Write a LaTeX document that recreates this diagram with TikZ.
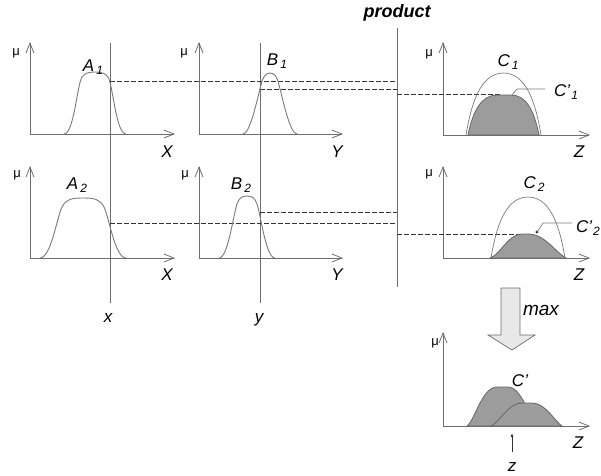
\documentclass[tikz,border=0pt]{standalone}
\usepackage{fontspec}
\setmainfont{Liberation Sans}
\usepackage{xcolor}
\usetikzlibrary{arrows.meta}

\definecolor{axisgray}{HTML}{6E6E6E}
\definecolor{curvegray}{HTML}{7A7A7A}
\definecolor{fillgray}{HTML}{9C9C9C}
\definecolor{edgegray}{HTML}{666666}
\definecolor{guidegray}{HTML}{333333}

\newcommand\lowix[1]{\kern2pt\raisebox{-3pt}{\fontsize{12}{12}\selectfont #1}}

\tikzset{
  axis/.style={draw=axisgray, line width=0.8pt, -{Straight Barb[length=10pt,width=8pt]}},
  curve/.style={draw=curvegray, line width=0.9pt},
  mship/.style={fill=fillgray, draw=edgegray, line width=0.8pt},
  vline/.style={draw=axisgray, line width=0.8pt},
  guide/.style={draw=guidegray, line width=0.6pt, dash pattern=on 4.5pt off 2.5pt},
  lbl/.style={font=\fontsize{17}{17}\selectfont\itshape, inner sep=0pt},
  setlbl/.style={font=\fontsize{17}{17}\selectfont\itshape, inner sep=0pt},
  mulbl/.style={font=\fontsize{13}{13}\selectfont, inner sep=0pt}
}

\begin{document}
\begin{tikzpicture}[x=1pt, y=-1pt]
  \useasboundingbox (0,0) rectangle (601,475);
  \coordinate (xtop) at (110,43);
  \coordinate (xbot) at (110,303);
  \coordinate (ytop) at (260,43);
  \coordinate (ybot) at (260,303);
  \coordinate (ptop) at (397,28);
  \coordinate (pbot) at (397,287);
  \draw[vline] (xtop) -- (xbot);
  \draw[vline] (ytop) -- (ybot);
  \draw[vline] (ptop) -- (pbot);
  \node[lbl] (xval) at (108,318) {x};
  \node[lbl] (yval) at (259,320) {y};
  \node[font=\fontsize{18}{18}\selectfont\bfseries\itshape, inner sep=0pt] (prod) at (397,13) {product};
  % axes
  \draw[axis] (30,134) -- (30,42);
  \draw[axis] (30,134) -- (175,134);
  \draw[axis] (199,134) -- (199,42);
  \draw[axis] (199,134) -- (343,134);
  \draw[axis] (30,258) -- (30,166);
  \draw[axis] (30,258) -- (175,258);
  \draw[axis] (199,258) -- (199,166);
  \draw[axis] (199,258) -- (343,258);
  \draw[axis] (443,135) -- (443,42);
  \draw[axis] (443,135) -- (590,135);
  \draw[axis] (443,258) -- (443,166);
  \draw[axis] (443,258) -- (590,258);
  \draw[axis] (443,426) -- (443,332);
  \draw[axis] (443,426) -- (590,426);
  \node[mulbl] (mua1) at (16,53) {μ};
  \node[mulbl] (mub1) at (184,53) {μ};
  \node[mulbl] (mua2) at (17,175) {μ};
  \node[mulbl] (mub2) at (185,175) {μ};
  \node[mulbl] (muc1) at (429,54) {μ};
  \node[mulbl] (muc2) at (429,174) {μ};
  \node[mulbl] (muout) at (435,343) {μ};
  \node[lbl] (xa1) at (167,152) {X};
  \node[lbl] (ya1) at (337,152) {Y};
  \node[lbl] (za1) at (579,152) {Z};
  \node[lbl] (xa2) at (167,275) {X};
  \node[lbl] (ya2) at (337,275) {Y};
  \node[lbl] (za2) at (579,275) {Z};
  \node[lbl] (zout) at (578,443) {Z};
  % cut levels
  \coordinate (a1cut) at (110,81);
  \coordinate (b1cut) at (260,89);
  \coordinate (a1end) at (397,81);
  \coordinate (b1end) at (397,89);
  \coordinate (r1beg) at (397,94);
  \coordinate (r1end) at (500,94);
  \coordinate (a2cut) at (110,223);
  \coordinate (b2cut) at (260,212);
  \coordinate (a2end) at (397,223);
  \coordinate (b2end) at (397,212);
  \coordinate (r2beg) at (397,234);
  \coordinate (r2end) at (524,234);
  \draw[guide] (a1cut) -- (a1end);
  \draw[guide] (b1cut) -- (b1end);
  \draw[guide] (r1beg) -- (r1end);
  \draw[guide] (a2cut) -- (a2end);
  \draw[guide] (b2cut) -- (b2end);
  \draw[guide] (r2beg) -- (r2end);
  % antecedents
  \draw[curve] (64,134) .. controls (74,134) and (77,85) .. (82,77) .. controls (85,73) and (89,72) .. (95,72) .. controls (101,72) and (105,73) .. (108,77) .. controls (113,85) and (116,134) .. (126,134);
  \draw[curve] (243,134) .. controls (250,134) and (257,100) .. (261,85) .. controls (263,76) and (266,73) .. (270,73) .. controls (274,73) and (277,76) .. (279,85) .. controls (283,100) and (290,134) .. (297,134);
  \draw[curve] (40,258) .. controls (51,258) and (57,217) .. (62,207) .. controls (66,199) and (72,198) .. (83,198) .. controls (94,198) and (100,199) .. (104,207) .. controls (109,217) and (115,258) .. (126,258);
  \draw[curve] (219,258) .. controls (228,258) and (233,216) .. (237,204) .. controls (239,198) and (242,196) .. (247,196) .. controls (252,196) and (255,198) .. (257,204) .. controls (261,216) and (266,258) .. (275,258);
  \node[setlbl] (la1) at (93,67) {A\lowix{1}};
  \node[setlbl] (lb1) at (277,61) {B\lowix{1}};
  \node[setlbl] (la2) at (77,185) {A\lowix{2}};
  \node[setlbl] (lb2) at (241,185) {B\lowix{2}};
  % consequents
  \draw[mship] (468,135) .. controls (473,110) and (482,95) .. (497,95) -- (511,95) .. controls (526,95) and (534,110) .. (539,135) -- cycle;
  \draw[curve, line width=0.7pt] (466,135) .. controls (471,105) and (480,73) .. (503.5,73) .. controls (527,73) and (536,105) .. (541,135);
  \draw[mship] (490,258) .. controls (500,255) and (508,234) .. (522,234) -- (528,234) .. controls (545,234) and (555,252) .. (566,258) -- cycle;
  \draw[curve, line width=0.7pt] (491,258) .. controls (496,228) and (505,197) .. (528,197) .. controls (551,197) and (560,228) .. (565,258);
  \node[setlbl] (lc1) at (508,62) {C\lowix{1}};
  \node[setlbl] (lc2) at (534,184) {C\lowix{2}};
  \coordinate (c1pin) at (512,95);
  \coordinate (c1bend) at (517,89);
  \coordinate (c1tail) at (545,89);
  \draw[curve, line width=0.7pt] (c1pin) -- (c1bend) -- (c1tail);
  \node[setlbl, anchor=west] (lcc1) at (554,92) {C'\kern-1pt\lowix{1}};
  \coordinate (c2pin) at (537,232);
  \coordinate (c2bend) at (543,223);
  \coordinate (c2tail) at (572,223);
  \fill[guidegray] (c2pin) circle (1.6);
  \draw[curve, line width=0.7pt] (c2pin) -- (c2bend) -- (c2tail);
  \node[setlbl, anchor=east] (lcc2) at (600,228) {C'\kern-1pt\lowix{2}};
  % aggregation
  \draw[draw=axisgray, fill=gray!18, line width=0.7pt] (501,288) -- (520,288) -- (520,335) -- (535,335) -- (512,350) -- (488,335) -- (501,335) -- cycle;
  \node[font=\fontsize{19}{19}\selectfont\itshape, inner sep=0pt] (maxlbl) at (541,310) {max};
  \draw[mship] (467,426) .. controls (475,420) and (482,387) .. (497,387) -- (508,387) .. controls (522,387) and (530,420) .. (538,426) -- cycle;
  \draw[mship] (491,426) .. controls (500,422) and (508,403) .. (522,403) -- (532,403) .. controls (546,403) and (555,422) .. (562,426) -- cycle;
  \node[setlbl] (lcout) at (520,381) {C'};
  \coordinate (zfoot) at (512,452);
  \coordinate (zhead) at (512,433);
  \draw[draw=guidegray, line width=0.6pt, -{Latex[length=4pt,width=3pt]}] (zfoot) -- (zhead);
  \node[lbl] (zval) at (512,467) {z};
\end{tikzpicture}
\end{document}
